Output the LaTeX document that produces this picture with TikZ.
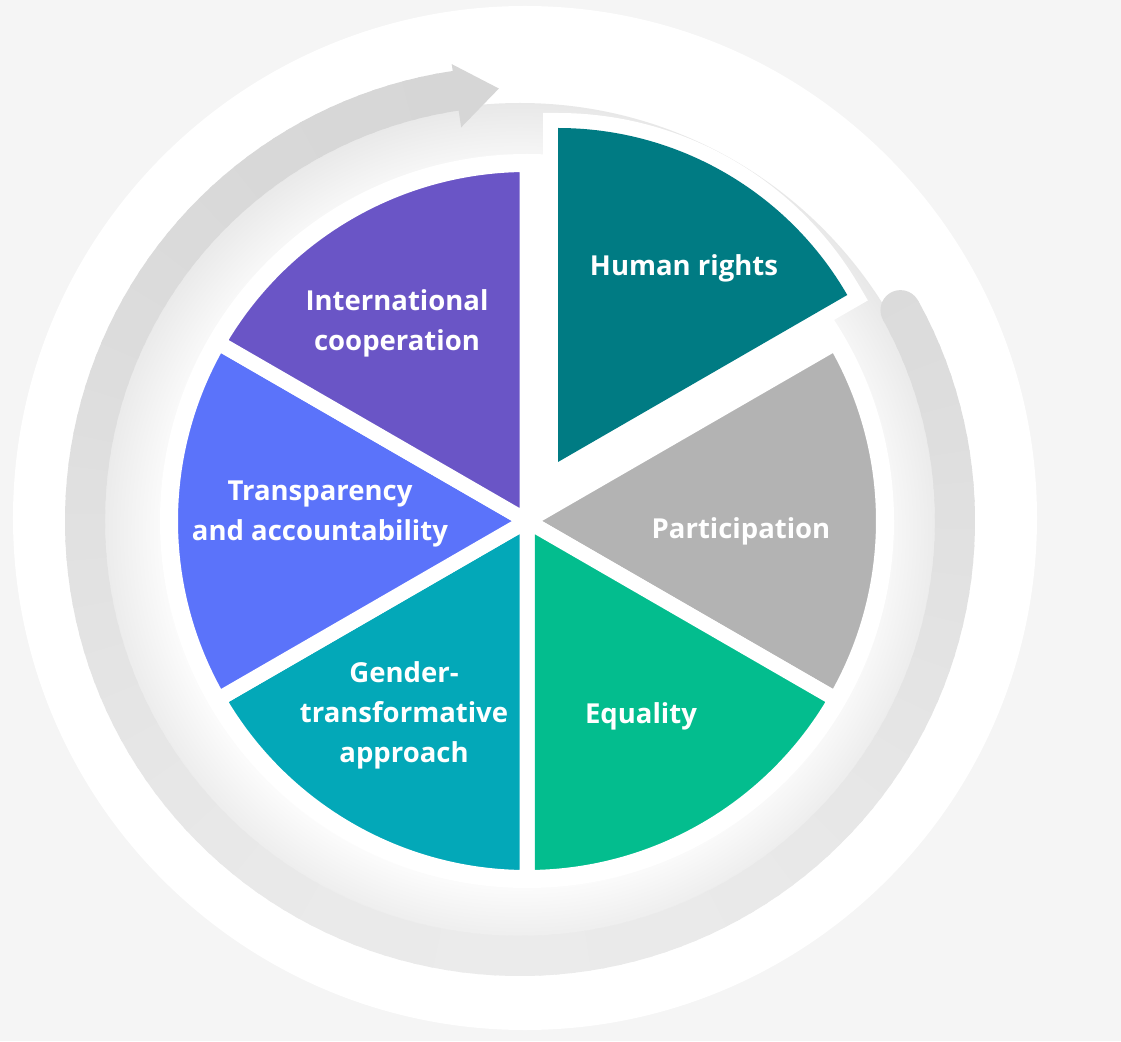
\documentclass[tikz,border=0pt]{standalone}
\usepackage{fontspec}
\setmainfont{Open Sans}
\usetikzlibrary{calc}

\definecolor{hrteal}{HTML}{007B83}
\definecolor{partgray}{HTML}{B3B3B3}
\definecolor{eqgreen}{HTML}{03BD8E}
\definecolor{gendcyan}{HTML}{03A8B8}
\definecolor{transblue}{HTML}{5B73FA}
\definecolor{intpurple}{HTML}{6A55C6}

\pgfdeclareradialshading{innershadow}{\pgfpoint{0bp}{0bp}}{color(0bp)=(white); color(20bp)=(white); color(25bp)=(black!9); color(50bp)=(black!9)}

\tikzset{
    slice/.style={draw=white, line width=15pt},
    slicetext/.style={text=white, font=\bfseries\fontsize{27.5}{40}\selectfont, align=center},
}

\begin{document}
\begin{tikzpicture}[x=1pt, y=1pt]
            \useasboundingbox (-527,-520) rectangle (594,521);
            \fill[black!4] (-527,-520) rectangle (594,521);

            % outer disc and the shadow inside the ring
            \fill[white] (-2,3) circle (512);
            \shade[shading=innershadow] (-7,-10) circle (428);

            % cycle arrow
            \coordinate (ring) at (-7,0);
            \fill[black!14.2] ($(ring)+(29:435)$) circle (20);
            \foreach \a in {29,27,...,-259}{
                \pgfmathsetmacro\shadeval{12+4*sin(\a)}
                \draw[black!\shadeval, line width=40] ($(ring)+(\a:435)$) arc[start angle=\a, end angle=\a-2.6, radius=435];
            }
            \fill[black!16] ($(ring)+(98.5:398)$) -- ($(ring)+(98.5:462)$) -- ($(ring)+(92.8:433)$) -- cycle;

            % pie
            \fill[white] (0,0) circle (367);
            \foreach \col/\a in {partgray/-30, eqgreen/-90, gendcyan/-150, transblue/150, intpurple/90}{
                \filldraw[fill=\col, slice] (0,0) -- (\a:356.5) arc[start angle=\a, end angle=\a+60, radius=356.5] -- cycle;
            }

            % pulled out slice
            \coordinate (hrtip) at (31,59);
            \draw[white, line width=30] (hrtip) -- +(30:334) arc[start angle=30, end angle=90, radius=334] -- cycle;
            \fill[hrteal] (hrtip) -- +(30:334) arc[start angle=30, end angle=90, radius=334] -- cycle;

            \node[slicetext] (hr) at (157,253) {Human rights};
            \node[slicetext] (part) at (214,-10) {Participation};
            \node[slicetext] (eq) at (114,-195) {Equality};
            \node[slicetext] (gend) at (-123,-194) {Gender-\\transformative\\approach};
            \node[slicetext] (trans) at (-207,7) {Transparency\\and accountability};
            \node[slicetext] (intl) at (-130,198) {International\\cooperation};
        \end{tikzpicture}
\end{document}
